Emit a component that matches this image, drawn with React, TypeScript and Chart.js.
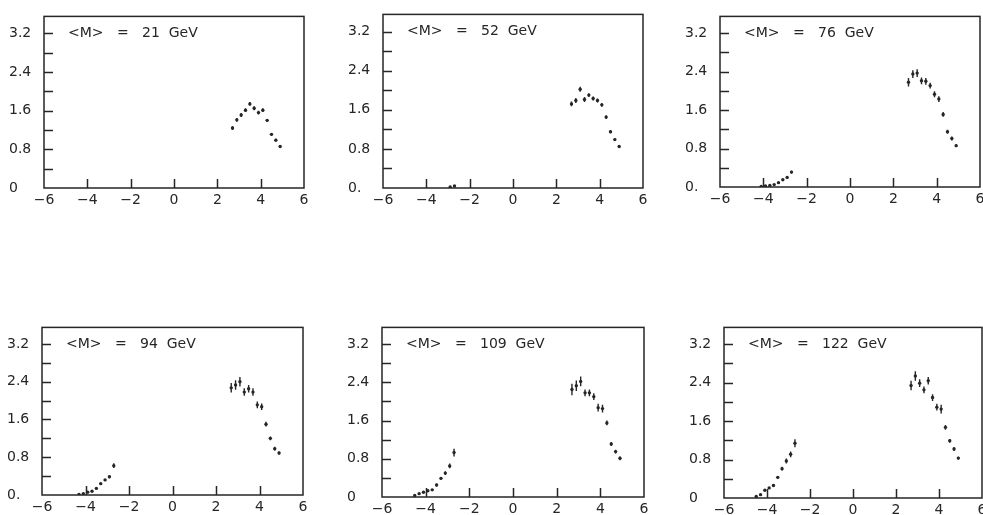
import React, { useEffect, useRef } from "react";
import { Chart, registerables } from "chart.js";

Chart.register(...registerables);

// ---------- data ----------
const X_FWD = [2.7, 2.9, 3.1, 3.3, 3.5, 3.7, 3.9, 4.1, 4.3, 4.5, 4.7, 4.9];
const X_BWD = [-4.5, -4.3, -4.1, -3.9, -3.7, -3.5, -3.3, -3.1, -2.9, -2.7];

const MASSES = [21, 52, 76, 94, 109, 122];

const FWD_21 = [1.24, 1.41, 1.51, 1.61, 1.74, 1.65, 1.56, 1.61, 1.4, 1.11, 0.99, 0.86];
const FWD_52 = [1.72, 1.79, 2.02, 1.81, 1.9, 1.83, 1.79, 1.7, 1.45, 1.15, 0.99, 0.85];
const FWD_76 = [2.18, 2.35, 2.37, 2.21, 2.2, 2.11, 1.93, 1.83, 1.51, 1.15, 1.01, 0.86];
const FWD_94 = [2.27, 2.33, 2.4, 2.18, 2.25, 2.18, 1.91, 1.87, 1.5, 1.2, 0.98, 0.89];
const FWD_109 = [2.25, 2.33, 2.42, 2.18, 2.18, 2.1, 1.87, 1.85, 1.55, 1.11, 0.95, 0.81];
const FWD_122 = [2.34, 2.54, 2.39, 2.25, 2.44, 2.09, 1.89, 1.85, 1.47, 1.19, 1.02, 0.83];

const FWD_ERR_21 = [0.04, 0.04, 0.04, 0.04, 0.04, 0.04, 0.04, 0.04, 0.03, 0.03, 0.03, 0.03];
const FWD_ERR_52 = [0.05, 0.05, 0.05, 0.05, 0.04, 0.04, 0.04, 0.04, 0.04, 0.03, 0.03, 0.03];
const FWD_ERR_76 = [0.09, 0.08, 0.08, 0.07, 0.07, 0.06, 0.06, 0.06, 0.05, 0.04, 0.04, 0.03];
const FWD_ERR_94 = [0.1, 0.1, 0.1, 0.08, 0.08, 0.08, 0.07, 0.07, 0.05, 0.04, 0.04, 0.03];
const FWD_ERR_109 = [0.12, 0.11, 0.1, 0.07, 0.07, 0.07, 0.08, 0.08, 0.05, 0.04, 0.04, 0.04];
const FWD_ERR_122 = [0.1, 0.1, 0.08, 0.07, 0.08, 0.07, 0.07, 0.09, 0.05, 0.04, 0.04, 0.03];

const BWD_21: (number | null)[] = [null, null, null, null, null, null, null, null, null, null];
const BWD_52 = [null, null, null, null, null, null, null, null, 0.02, 0.04];
const BWD_76 = [null, null, 0.01, 0.02, 0.03, 0.05, 0.09, 0.15, 0.2, 0.31];
const BWD_94 = [null, 0.01, 0.03, 0.06, 0.08, 0.14, 0.24, 0.32, 0.385, 0.62];
const BWD_109 = [0.03, 0.07, 0.1, 0.13, 0.15, 0.25, 0.39, 0.5, 0.65, 0.93];
const BWD_122 = [0.03, 0.07, 0.16, 0.21, 0.26, 0.43, 0.61, 0.77, 0.91, 1.14];

const BWD_ERR_76 = [0, 0, 0.005, 0.005, 0.01, 0.01, 0.01, 0.015, 0.02, 0.03];
const BWD_ERR_94 = [0, 0.005, 0.01, 0.01, 0.01, 0.015, 0.02, 0.02, 0.03, 0.05];
const BWD_ERR_109 = [0.01, 0.01, 0.015, 0.02, 0.02, 0.03, 0.03, 0.04, 0.05, 0.08];
const BWD_ERR_122 = [0.01, 0.015, 0.02, 0.02, 0.03, 0.03, 0.04, 0.05, 0.06, 0.085];
const BWD_ERR_ZERO = [0, 0, 0, 0, 0, 0, 0, 0, 0, 0];

const Y_TICKS = [0, 0.4, 0.8, 1.2, 1.6, 2.0, 2.4, 2.8, 3.2];
const Y_TICK_LABELS = ["0", "", "0.8", "", "1.6", "", "2.4", "", "3.2"];
const ZERO_LABELS = ["0", "0.", "0.", "0.", "0", "0"];
const X_TICKS = [-6, -4, -2, 0, 2, 4, 6];
const X_TICK_LABELS = ["\u22126", "\u22124", "\u22122", "0", "2", "4", "6"];
const X_INNER_TICKS = [-4, -2, 0, 2, 4];
const Y_INNER_TICKS = [0.4, 0.8, 1.2, 1.6, 2.0, 2.4, 2.8, 3.2];

const FWD_SERIES = [FWD_21, FWD_52, FWD_76, FWD_94, FWD_109, FWD_122];
const FWD_ERRS = [FWD_ERR_21, FWD_ERR_52, FWD_ERR_76, FWD_ERR_94, FWD_ERR_109, FWD_ERR_122];
const BWD_SERIES = [BWD_21, BWD_52, BWD_76, BWD_94, BWD_109, BWD_122];
const BWD_ERRS = [BWD_ERR_ZERO, BWD_ERR_ZERO, BWD_ERR_76, BWD_ERR_94, BWD_ERR_109, BWD_ERR_122];

// ---------- layout (plot-box pixel frames) ----------
const BOXES = [
  { L: 44, R: 304, T: 12, B: 188 },
  { L: 383, R: 643, T: 10, B: 188 },
  { L: 720, R: 980, T: 12, B: 187 },
  { L: 42, R: 303, T: 323, B: 495 },
  { L: 382, R: 644, T: 323, B: 497 },
  { L: 724, R: 982, T: 323, B: 498 },
];

const INK = "#262626";
const FONT = "'DejaVu Sans', 'Liberation Sans', Arial, sans-serif";
const Y_AXIS_W = 35;
const X_AXIS_H = 24;
const PAD_TOP = 8;
const PAD_RIGHT = 10;

const errorBarsPlugin = {
  id: "errorBars",
  afterDatasetsDraw(chart: any) {
    const { ctx, chartArea } = chart;
    const xs = chart.scales.x;
    const ys = chart.scales.y;
    ctx.save();
    ctx.beginPath();
    ctx.rect(chartArea.left, chartArea.top, chartArea.right - chartArea.left, chartArea.bottom - chartArea.top);
    ctx.clip();
    ctx.strokeStyle = INK;
    ctx.lineWidth = 1.4;
    chart.data.datasets.forEach((ds: any) => {
      ds.data.forEach((p: any) => {
        if (!p || p.y == null || !p.e) return;
        const px = xs.getPixelForValue(p.x);
        ctx.beginPath();
        ctx.moveTo(px, ys.getPixelForValue(p.y - p.e));
        ctx.lineTo(px, ys.getPixelForValue(p.y + p.e));
        ctx.stroke();
      });
    });
    ctx.restore();
  },
};

const framePlugin = {
  id: "frame",
  afterDraw(chart: any, _args: any, opts: any) {
    const { ctx, chartArea } = chart;
    const { left, right, top, bottom } = chartArea;
    const xs = chart.scales.x;
    const ys = chart.scales.y;
    ctx.save();
    ctx.strokeStyle = INK;
    ctx.lineWidth = 1.5;
    ctx.strokeRect(left, top, right - left, bottom - top);
    ctx.beginPath();
    Y_INNER_TICKS.forEach((v) => {
      const py = Math.round(ys.getPixelForValue(v)) + 0.5;
      ctx.moveTo(left, py);
      ctx.lineTo(left + 9, py);
    });
    X_INNER_TICKS.forEach((v) => {
      const px = Math.round(xs.getPixelForValue(v)) + 0.5;
      ctx.moveTo(px, bottom);
      ctx.lineTo(px, bottom - 9);
    });
    ctx.stroke();
    ctx.fillStyle = INK;
    ctx.font = `14px ${FONT}`;
    ctx.textBaseline = "middle";
    ctx.textAlign = "left";
    ctx.fillText(opts.label, left + 24, ys.getPixelForValue(3.2));
    ctx.restore();
  },
};

function Panel({ idx }: { idx: number }) {
  const ref = useRef<HTMLCanvasElement | null>(null);
  const box = BOXES[idx];
  const w = box.R - box.L + Y_AXIS_W + PAD_RIGHT;
  const h = box.B - box.T + PAD_TOP + X_AXIS_H;

  useEffect(() => {
    if (!ref.current) return;
    const fwd = X_FWD.map((x, i) => ({ x, y: FWD_SERIES[idx][i], e: FWD_ERRS[idx][i] }));
    const bwd = X_BWD.map((x, i) => ({ x, y: BWD_SERIES[idx][i], e: BWD_ERRS[idx][i] })).filter(
      (p) => p.y != null
    );
    const zeroLabel = ZERO_LABELS[idx];
    const chart = new Chart(ref.current, {
      type: "scatter",
      data: {
        datasets: [
          {
            data: [...bwd, ...fwd] as any,
            pointRadius: 1.7,
            pointHoverRadius: 1.7,
            pointStyle: "circle",
            backgroundColor: INK,
            borderColor: INK,
            borderWidth: 0,
            showLine: false,
          },
        ],
      },
      options: {
        responsive: false,
        animation: false,
        events: [],
        layout: { padding: { left: 0, top: PAD_TOP, right: PAD_RIGHT, bottom: 0 } },
        plugins: {
          legend: { display: false },
          tooltip: { enabled: false },
          frame: { label: `<M>   =   ${MASSES[idx]}  GeV` },
        } as any,
        scales: {
          x: {
            type: "linear",
            min: -6,
            max: 6,
            grid: { display: false, drawTicks: false },
            border: { display: false },
            afterBuildTicks: (s: any) => {
              s.ticks = X_TICKS.map((v) => ({ value: v }));
            },
            afterFit: (s: any) => {
              s.height = X_AXIS_H;
            },
            ticks: {
              autoSkip: false,
              maxRotation: 0,
              padding: 4,
              color: INK,
              font: { family: FONT, size: 14 },
              callback: (v: any) => X_TICK_LABELS[X_TICKS.indexOf(Number(v))] ?? "",
            },
          },
          y: {
            type: "linear",
            min: 0,
            max: 3.55,
            grid: { display: false, drawTicks: false },
            border: { display: false },
            afterBuildTicks: (s: any) => {
              s.ticks = Y_TICKS.map((v) => ({ value: v }));
            },
            afterFit: (s: any) => {
              s.width = Y_AXIS_W;
            },
            ticks: {
              autoSkip: false,
              crossAlign: "far",
              padding: 4,
              color: INK,
              font: { family: FONT, size: 14 },
              callback: (v: any) => {
                const i = Y_TICKS.findIndex((t) => Math.abs(t - Number(v)) < 1e-6);
                if (i === 0) return zeroLabel;
                return i >= 0 ? Y_TICK_LABELS[i] : "";
              },
            },
          },
        },
      },
      plugins: [errorBarsPlugin, framePlugin],
    });
    return () => chart.destroy();
  }, [idx]);

  return (
    <canvas
      ref={ref}
      width={w}
      height={h}
      style={{
        position: "absolute",
        left: box.L - Y_AXIS_W,
        top: box.T - PAD_TOP,
        width: w,
        height: h,
      }}
    />
  );
}

export default function App() {
  return (
    <div
      style={{
        position: "fixed",
        left: 0,
        top: 0,
        width: 983,
        height: 515,
        background: "#ffffff",
        overflow: "hidden",
      }}
    >
      {MASSES.map((_, i) => (
        <Panel key={i} idx={i} />
      ))}
    </div>
  );
}
